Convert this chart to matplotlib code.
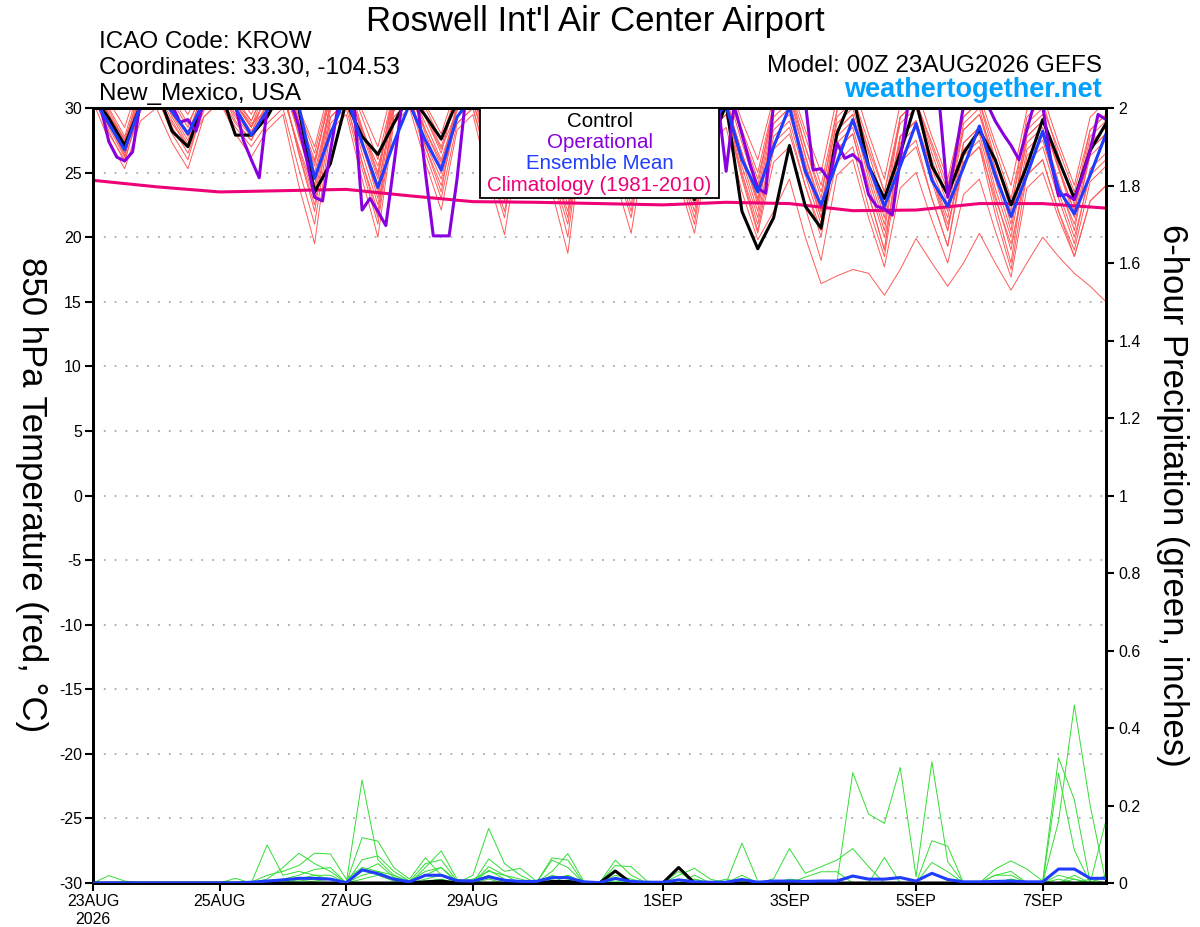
import numpy as np
import matplotlib
matplotlib.use("Agg")
import matplotlib.pyplot as plt
from matplotlib.patches import Rectangle

plt.rcParams['font.family'] = ['Liberation Sans', 'DejaVu Sans']

# ---------------- data ----------------
# time axis: 6-hourly steps from 00Z 23AUG2026 (step index), operational run is 3-hourly
steps = list(range(65))
op_steps = [i * 0.5 for i in range(129)]

xtick_steps = [0, 8, 16, 24, 36, 44, 52, 60]
xtick_labels = ["23AUG\n2026", "25AUG", "27AUG", "29AUG", "1SEP", "3SEP", "5SEP", "7SEP"]

temp_ticks = list(range(-30, 31, 5))
precip_ticks = [0, 0.2, 0.4, 0.6, 0.8, 1.0, 1.2, 1.4, 1.6, 1.8, 2.0]
precip_tick_labels = ["0", "0.2", "0.4", "0.6", "0.8", "1", "1.2", "1.4", "1.6", "1.8", "2"]

control_t = [31.0, 29.2, 27.1, 30.2, 31.5, 28.2, 27.0, 30.5, 31.5, 27.9, 27.9, 29.3,
             31.5, 30.0, 23.5, 25.7, 30.5, 27.8, 26.4, 28.8, 31.0, 29.4, 27.6, 30.5,
             31.5, 28.5, 25.0, 29.0, 31.0, 28.0, 25.0, 28.5, 31.0, 28.0, 25.0, 28.5,
             30.5, 26.0, 22.9, 27.0, 30.3, 22.0, 19.1, 21.5, 27.1, 22.4, 20.7, 28.0,
             31.0, 25.5, 23.0, 26.5, 30.5, 25.5, 23.3, 26.5, 28.3, 26.0, 22.5, 25.5,
             29.1, 26.0, 23.0, 26.7, 28.8]

mean_t = [30.8, 28.8, 26.75, 30.2, 31.2, 29.7, 28.0, 30.5, 31.3, 30.0, 27.9, 29.8,
          31.2, 30.2, 24.55, 28.0, 31.0, 27.3, 23.85, 27.3, 30.3, 27.5, 25.2, 29.3,
          31.0, 28.5, 25.5, 29.0, 31.0, 28.3, 25.0, 28.8, 30.8, 28.5, 25.5, 29.0,
          30.8, 28.4, 25.3, 29.0, 30.2, 26.0, 23.5, 27.0, 30.1, 25.1, 22.5, 25.8,
          29.1, 25.5, 22.4, 25.5, 28.8, 24.4, 22.4, 25.4, 28.6, 24.8, 21.6, 24.8,
          28.2, 23.7, 21.8, 24.8, 28.0]

oper_t = [30.8, 30.0, 27.4, 26.2, 25.9, 26.6, 30.5, 31.5,
          31.5, 31.0, 30.2, 28.9, 29.1, 28.2, 30.5, 31.5,
          32.0, 31.5, 30.2, 27.5, 26.0, 24.6, 30.0, 31.5,
          32.0, 30.5, 28.6, 26.0, 23.1, 22.8, 26.7, 30.2,
          31.5, 30.2, 22.1, 23.0, 22.0, 20.9, 25.5, 30.2,
          31.5, 30.5, 25.0, 20.1, 20.1, 20.1, 24.5, 30.3,
          31.5, 31.0, 29.0, 27.0, 25.5, 26.0, 29.0, 31.0,
          31.5, 30.5, 28.5, 26.5, 25.0, 25.5, 28.5, 30.5,
          31.0, 30.5, 28.5, 26.5, 25.5, 26.0, 28.5, 30.5,
          31.0, 30.0, 28.0, 26.5, 25.5, 26.5, 29.0, 30.3,
          25.1, 30.2, 28.0, 25.7, 23.8, 23.4, 30.5, 31.5,
          32.0, 31.5, 30.5, 25.2, 25.3, 24.4, 27.3, 26.1,
          26.4, 25.8, 23.3, 22.4, 22.2, 21.7, 26.0, 30.3,
          31.5, 31.5, 31.0, 30.0, 23.1, 26.5, 30.2, 31.5,
          31.5, 30.3, 29.0, 28.0, 27.1, 26.0, 28.3, 30.5,
          30.2, 26.0, 23.2, 23.3, 22.9, 24.7, 26.7, 29.5,
          29.1]

clim_steps = [0, 4, 8, 12, 16, 20, 24, 28, 32, 36, 40, 44, 48, 52, 56, 60, 64]
clim_t = [24.4, 23.9, 23.5, 23.6, 23.7, 23.2, 22.75, 22.7, 22.6, 22.5, 22.7, 22.6,
          22.05, 22.1, 22.6, 22.6, 22.25]

member_t01 = [32.0, 28.8, 26.5, 31.3, 32.5, 29.5, 27.5, 30.8, 32.0, 29.5, 28.0, 31.3,
              32.5, 27.8, 24.0, 30.3, 31.5, 27.0, 23.5, 30.8, 32.0, 28.3, 25.5, 30.3,
              31.5, 27.5, 24.5, 29.8, 31.0, 26.8, 23.5, 30.3, 31.5, 27.3, 24.0, 29.8,
              31.0, 26.5, 23.0, 29.8, 31.0, 26.0, 22.0, 28.8, 30.0, 25.5, 22.0, 28.3,
              29.5, 24.5, 20.5, 27.8, 29.0, 24.8, 21.5, 27.3, 28.5, 23.8, 20.0, 26.8,
              28.0, 24.0, 21.0, 26.3, 27.5]
member_t02 = [32.5, 29.5, 27.0, 31.8, 33.0, 30.5, 28.5, 31.8, 33.0, 30.8, 29.0, 31.8,
              33.0, 29.0, 25.5, 31.3, 32.5, 28.5, 25.0, 31.3, 32.5, 29.3, 26.5, 31.3,
              32.5, 29.0, 26.0, 30.8, 32.0, 28.5, 25.5, 30.8, 32.0, 28.3, 25.0, 30.8,
              32.0, 28.5, 25.5, 30.8, 32.0, 27.8, 24.0, 30.3, 31.5, 27.0, 23.0, 29.8,
              31.0, 26.5, 22.5, 29.3, 30.5, 26.5, 23.0, 29.3, 30.5, 26.0, 22.0, 29.3,
              30.5, 26.3, 22.5, 28.3, 29.5]
member_t03 = [31.5, 28.2, 25.8, 30.3, 31.5, 28.5, 26.5, 29.8, 31.0, 28.8, 27.5, 30.3,
              31.5, 26.5, 22.5, 29.3, 30.5, 25.8, 22.0, 29.8, 31.0, 27.0, 24.0, 29.3,
              30.5, 26.3, 23.0, 28.8, 30.0, 25.5, 22.0, 29.3, 30.5, 26.3, 23.0, 29.3,
              30.5, 25.8, 22.0, 28.8, 30.0, 25.0, 21.0, 27.3, 28.5, 24.0, 20.5, 25.8,
              27.0, 22.3, 18.5, 26.3, 27.5, 23.0, 19.3, 25.8, 27.0, 21.8, 17.5, 24.8,
              26.0, 22.0, 19.0, 24.3, 25.5]
member_t04 = [32.5, 29.8, 27.5, 31.3, 32.5, 30.0, 28.0, 31.3, 32.5, 30.3, 28.5, 31.8,
              33.0, 29.3, 26.0, 30.8, 32.0, 28.0, 24.5, 31.3, 32.5, 29.5, 27.0, 30.8,
              32.0, 28.5, 25.5, 30.3, 31.5, 27.8, 24.5, 30.8, 32.0, 28.8, 26.0, 30.3,
              31.5, 27.8, 24.5, 30.3, 31.5, 27.3, 23.5, 29.8, 31.0, 26.3, 22.0, 29.3,
              30.5, 26.8, 23.5, 28.8, 30.0, 26.0, 22.5, 28.8, 30.0, 25.3, 21.0, 28.3,
              29.5, 25.5, 22.0, 27.8, 29.0]
member_t05 = [31.0, 28.0, 26.0, 29.8, 31.0, 28.8, 27.0, 29.3, 30.5, 28.5, 27.0, 28.8,
              30.0, 25.3, 21.0, 28.8, 30.0, 25.3, 21.0, 29.3, 30.5, 26.5, 23.0, 28.8,
              30.0, 25.8, 22.0, 28.3, 29.5, 25.0, 21.0, 28.8, 30.0, 25.8, 22.0, 28.8,
              30.0, 25.5, 21.5, 28.3, 29.5, 24.5, 20.3, 25.8, 27.0, 22.3, 18.2, 24.8,
              26.0, 21.5, 17.7, 23.8, 25.0, 21.3, 18.0, 23.3, 24.5, 20.5, 16.9, 23.8,
              25.0, 21.5, 18.5, 22.8, 24.0]
member_t06 = [33.0, 30.5, 28.5, 32.3, 33.5, 31.3, 29.5, 32.3, 33.5, 31.3, 29.5, 32.3,
              33.5, 30.0, 27.0, 31.8, 33.0, 29.8, 27.0, 31.8, 33.0, 30.3, 28.0, 31.8,
              33.0, 29.8, 27.0, 31.3, 32.5, 29.5, 27.0, 31.8, 33.0, 29.8, 27.0, 31.3,
              32.5, 29.5, 27.0, 31.3, 32.5, 29.0, 26.0, 30.8, 32.0, 28.3, 25.0, 30.8,
              32.0, 28.0, 24.5, 30.3, 31.5, 27.8, 24.5, 29.8, 31.0, 27.3, 24.0, 29.8,
              31.0, 27.3, 24.0, 29.3, 30.5]
member_t07 = [30.5, 27.5, 25.3, 29.0, 30.0, 27.3, 25.3, 29.3, 30.5, 28.0, 26.2, 28.3,
              29.5, 24.0, 19.5, 28.3, 29.5, 24.5, 20.0, 28.8, 30.0, 25.8, 22.1, 28.3,
              29.5, 24.5, 20.2, 27.8, 29.0, 23.5, 18.75, 28.3, 29.5, 24.5, 20.3, 27.8,
              29.0, 24.3, 20.3, 27.3, 28.5, 23.5, 19.8, 22.0, 24.5, 20.0, 16.4, 17.0,
              17.5, 17.2, 15.5, 17.5, 19.9, 18.0, 16.2, 18.0, 20.3, 18.0, 15.9, 18.0,
              20.0, 18.5, 17.2, 16.2, 15.0]
member_t08 = [32.0, 29.3, 27.2, 30.8, 32.0, 29.8, 28.0, 31.3, 32.5, 30.3, 28.5, 30.8,
              32.0, 28.0, 24.5, 30.3, 31.5, 27.5, 24.0, 30.3, 31.5, 28.0, 25.0, 30.3,
              31.5, 28.0, 25.0, 30.3, 31.5, 27.5, 24.0, 29.8, 31.0, 27.5, 24.5, 29.8,
              31.0, 27.3, 24.0, 29.3, 30.5, 26.5, 23.0, 29.3, 30.5, 26.3, 22.5, 28.3,
              29.5, 25.0, 21.0, 27.8, 29.0, 25.3, 22.0, 28.3, 29.5, 25.3, 21.5, 27.3,
              28.5, 24.3, 20.5, 26.8, 28.0]
member_t09 = [31.5, 28.8, 26.8, 29.8, 31.0, 28.0, 26.0, 30.3, 31.5, 29.0, 27.5, 29.8,
              31.0, 26.8, 23.0, 29.8, 31.0, 26.5, 22.5, 29.3, 30.5, 27.3, 24.5, 29.3,
              30.5, 26.8, 23.5, 29.3, 30.5, 26.3, 22.5, 28.8, 30.0, 25.5, 21.5, 28.8,
              30.0, 26.0, 22.5, 28.8, 30.0, 25.5, 21.5, 27.8, 29.0, 24.8, 21.0, 26.8,
              28.0, 23.3, 19.0, 27.3, 28.5, 24.3, 20.5, 26.8, 28.0, 23.3, 19.0, 25.8,
              27.0, 23.0, 19.5, 25.3, 26.5]
member_t10 = [32.5, 30.0, 27.8, 31.8, 33.0, 30.8, 28.8, 31.3, 32.5, 30.5, 29.0, 31.8,
              33.0, 29.8, 26.5, 31.3, 32.5, 29.3, 26.0, 31.3, 32.5, 30.0, 27.5, 31.3,
              32.5, 29.5, 26.5, 30.8, 32.0, 29.0, 26.0, 31.3, 32.5, 29.5, 26.5, 30.3,
              31.5, 28.8, 26.0, 30.3, 31.5, 28.3, 25.0, 30.3, 31.5, 27.8, 24.0, 29.8,
              31.0, 27.3, 23.5, 29.3, 30.5, 27.3, 24.0, 29.3, 30.5, 26.8, 23.0, 28.8,
              30.0, 26.8, 23.5, 28.3, 29.5]
member_t11 = [31.5, 28.8, 26.3, 30.8, 32.0, 29.8, 27.8, 30.8, 32.0, 30.0, 28.2, 30.3,
              31.5, 28.3, 25.0, 30.3, 31.5, 27.3, 23.0, 30.3, 31.5, 28.8, 26.0, 29.8,
              31.0, 27.5, 24.0, 29.8, 31.0, 27.0, 23.0, 29.8, 31.0, 28.0, 25.0, 29.3,
              30.5, 27.0, 23.5, 29.3, 30.5, 26.5, 22.5, 28.8, 30.0, 25.8, 21.5, 27.8,
              29.0, 25.5, 22.0, 27.8, 29.0, 24.8, 20.5, 27.3, 28.5, 24.5, 20.5, 27.8,
              29.0, 25.3, 21.5, 26.8, 28.0]
member_t12 = [32.0, 29.5, 27.4, 30.3, 31.5, 29.0, 27.0, 30.8, 32.0, 30.3, 28.8, 29.8,
              31.0, 27.0, 23.5, 30.3, 31.5, 28.3, 25.5, 29.8, 31.0, 28.3, 25.8, 28.8,
              30.0, 25.5, 21.5, 29.3, 30.5, 25.0, 20.0, 29.3, 30.5, 27.0, 23.5, 28.3,
              29.5, 25.0, 21.0, 28.3, 29.5, 24.8, 20.5, 26.8, 28.0, 24.0, 20.0, 27.3,
              28.5, 24.0, 20.0, 25.8, 27.0, 23.0, 19.3, 26.3, 27.5, 22.5, 18.0, 26.3,
              27.5, 23.5, 20.0, 24.8, 26.0]
member_t13 = [31.5, 28.5, 26.2, 30.8, 32.0, 29.8, 28.2, 30.3, 31.5, 29.3, 27.8, 30.3,
              31.5, 26.5, 22.0, 29.3, 30.5, 25.8, 21.5, 29.8, 31.0, 27.0, 23.5, 30.3,
              31.5, 28.3, 25.5, 29.8, 31.0, 27.5, 24.5, 29.3, 30.5, 26.3, 22.5, 29.8,
              31.0, 27.5, 24.5, 29.3, 30.5, 26.5, 22.8, 28.3, 29.5, 25.3, 21.5, 26.8,
              28.0, 23.3, 19.0, 27.8, 29.0, 24.8, 21.0, 25.8, 27.0, 23.0, 19.5, 24.8,
              26.0, 22.0, 18.5, 22.8, 24.0]
member_t14 = [32.0, 29.5, 27.6, 30.8, 32.0, 29.3, 27.2, 31.3, 32.5, 30.3, 28.6, 30.8,
              32.0, 28.8, 25.8, 30.8, 32.0, 28.3, 24.8, 30.8, 32.0, 29.3, 26.8, 29.8,
              31.0, 26.8, 22.8, 29.3, 30.5, 25.8, 21.5, 30.3, 31.5, 28.3, 25.5, 29.3,
              30.5, 26.5, 22.8, 30.3, 31.5, 28.0, 24.5, 29.8, 31.0, 27.0, 23.5, 28.8,
              30.0, 25.5, 21.5, 29.3, 30.5, 27.0, 23.5, 28.3, 29.5, 26.0, 22.5, 27.8,
              29.0, 25.3, 22.0, 27.3, 28.5]
members_t = [member_t01, member_t02, member_t03, member_t04, member_t05, member_t06,
             member_t07, member_t08, member_t09, member_t10, member_t11, member_t12,
             member_t13, member_t14]

mean_p = [0, 0, 0, 0, 0, 0, 0, 0, 0, 0, 0.002, 0.005, 0.008,
          0.012, 0.012, 0.01, 0.001, 0.034, 0.024, 0.01, 0.003, 0.02, 0.02, 0.006, 0.005, 0.016,
          0.007, 0.004, 0.004, 0.014, 0.014, 0.003, 0.001, 0.012, 0.004, 0.002, 0.002, 0.008, 0.003,
          0.002, 0.002, 0.009, 0.002, 0.005, 0.005, 0.004, 0.005, 0.005, 0.018, 0.01, 0.01, 0.014,
          0.005, 0.025, 0.009, 0.003, 0.003, 0.004, 0.005, 0.003, 0.003, 0.036, 0.036, 0.012, 0.012]
control_p = [0, 0, 0, 0, 0, 0, 0, 0, 0, 0, 0, 0, 0,
             0, 0, 0, 0, 0, 0, 0, 0, 0.003, 0.005, 0, 0, 0,
             0, 0, 0, 0.004, 0.004, 0, 0, 0.031, 0, 0, 0, 0.04, 0,
             0, 0, 0, 0, 0, 0, 0, 0, 0, 0, 0, 0, 0,
             0, 0, 0, 0, 0, 0, 0, 0, 0, 0, 0, 0, 0]

member_p1 = [0, 0.019, 0.005, 0, 0, 0, 0, 0, 0, 0, 0, 0.098, 0.02,
             0.03, 0.02, 0.01, 0, 0.266, 0.06, 0.02, 0.005, 0.03, 0.04, 0.005, 0.01, 0.03,
             0.02, 0.01, 0, 0.03, 0.076, 0.005, 0, 0.02, 0.01, 0, 0, 0, 0.01,
             0, 0, 0.02, 0, 0, 0.01, 0.005, 0, 0, 0.285, 0.178, 0.154, 0.298,
             0.016, 0.313, 0.055, 0, 0, 0, 0.01, 0, 0, 0.02, 0.01, 0, 0]
member_p2 = [0, 0, 0, 0, 0, 0, 0, 0, 0, 0.012, 0, 0.01, 0.04,
             0.077, 0.05, 0.03, 0, 0.117, 0.108, 0.04, 0.01, 0.065, 0.02, 0, 0.02, 0.141,
             0.05, 0.02, 0, 0.065, 0.059, 0, 0, 0.059, 0.02, 0, 0, 0.02, 0.038,
             0.01, 0, 0.103, 0.005, 0, 0, 0, 0, 0, 0, 0, 0, 0,
             0, 0.109, 0.095, 0, 0, 0.036, 0.057, 0.036, 0.005, 0.323, 0.215, 0, 0]
member_p3 = [0, 0, 0, 0, 0, 0, 0, 0, 0, 0, 0.002, 0.02, 0.03,
             0.045, 0.077, 0.075, 0.01, 0.04, 0.03, 0.02, 0, 0.04, 0.083, 0.01, 0, 0.062,
             0.03, 0.038, 0.005, 0.01, 0.02, 0, 0, 0.045, 0.042, 0.005, 0, 0, 0.02,
             0, 0.01, 0, 0, 0.011, 0.089, 0.025, 0.042, 0.059, 0.089, 0.042, 0, 0,
             0, 0.053, 0.029, 0, 0, 0.02, 0.03, 0, 0, 0.159, 0.459, 0.2, 0]
member_p4 = [0, 0, 0, 0, 0, 0, 0, 0, 0, 0, 0, 0.005, 0.01,
             0.02, 0.035, 0.04, 0, 0.06, 0.07, 0.03, 0.005, 0.05, 0.06, 0.005, 0, 0.042,
             0.02, 0, 0, 0.059, 0.04, 0, 0, 0.03, 0, 0, 0, 0.03, 0,
             0, 0, 0, 0, 0, 0, 0.015, 0.029, 0.029, 0, 0, 0.066, 0,
             0, 0, 0, 0, 0, 0, 0.01, 0, 0, 0.283, 0.085, 0, 0.162]
member_p5 = [0, 0, 0, 0, 0, 0, 0, 0, 0, 0, 0, 0, 0,
             0.01, 0.02, 0.02, 0, 0.03, 0.05, 0.015, 0, 0.02, 0.04, 0, 0, 0.033,
             0.01, 0, 0, 0, 0.02, 0, 0, 0.01, 0, 0, 0, 0, 0,
             0, 0, 0, 0, 0, 0, 0, 0, 0, 0, 0, 0, 0,
             0, 0, 0, 0, 0, 0.005, 0, 0, 0, 0, 0.02, 0, 0.02]
member_p6 = [0, 0, 0, 0, 0, 0, 0, 0, 0, 0, 0, 0, 0.005,
             0.005, 0.01, 0.01, 0, 0.02, 0.03, 0.01, 0, 0.01, 0.02, 0, 0.005, 0.02,
             0.005, 0, 0, 0.02, 0.01, 0, 0, 0.005, 0, 0, 0, 0, 0,
             0, 0, 0, 0, 0, 0, 0, 0, 0, 0, 0, 0, 0,
             0, 0, 0, 0, 0, 0, 0, 0, 0, 0.01, 0, 0.01, 0]
member_p7 = [0, 0, 0, 0, 0, 0, 0, 0, 0, 0, 0, 0, 0,
             0, 0.005, 0.01, 0, 0.01, 0.02, 0.005, 0, 0.005, 0.01, 0, 0, 0.01,
             0, 0, 0, 0.005, 0.005, 0, 0, 0, 0, 0, 0, 0, 0.01,
             0, 0, 0.005, 0, 0, 0, 0, 0, 0, 0, 0, 0, 0,
             0, 0, 0, 0, 0, 0.02, 0.02, 0, 0, 0, 0.01, 0, 0]
members_p = [member_p1, member_p2, member_p3, member_p4, member_p5, member_p6, member_p7]

# ---------------- styles ----------------
RED = '#ff5a5a'
GREEN = '#33dd33'
BLACK = '#000000'
PURPLE = '#8800dd'
BLUE = '#1f3cff'
PINK = '#ee0077'
CYAN = '#00a0ff'

fig = plt.figure(figsize=(12, 9.27), dpi=100)
ax = fig.add_axes([93 / 1200, 1 - 883 / 927, (1106 - 93) / 1200, (883 - 108) / 927])
ax.set_xlim(0, 64)
ax.set_ylim(-30, 30)
ax2 = ax.twinx()
ax2.set_ylim(0, 2)

# temperature
for m in members_t:
    ax.plot(steps, m, color=RED, lw=0.7, zorder=2)
ax.plot(clim_steps, clim_t, color=PINK, lw=2.2, zorder=3)
ax.plot(steps, control_t, color=BLACK, lw=2.2, zorder=4)
ax.plot(op_steps, oper_t, color=PURPLE, lw=2.2, zorder=5)
ax.plot(steps, mean_t, color=BLUE, lw=2.2, zorder=6)

# precipitation
for m in members_p:
    ax2.plot(steps, m, color=GREEN, lw=0.7, zorder=2)
ax2.plot(steps, control_p, color=BLACK, lw=2.2, zorder=4)
ax2.plot(steps, mean_p, color=BLUE, lw=2.2, zorder=5)

# axes styling
for a in (ax, ax2):
    for s in a.spines.values():
        s.set_linewidth(2.0)
ax.set_yticks(temp_ticks)
ax.set_yticklabels([str(v) for v in temp_ticks])
ax.grid(axis='y', linestyle=(0, (1, 5)), color='#aaaaaa', lw=1.3)
ax.set_xticks(xtick_steps)
ax.set_xticklabels(xtick_labels)
ax.tick_params(axis='both', direction='out', length=6, width=1.5, labelsize=11.5, pad=2)
ax2.set_yticks(precip_ticks)
ax2.set_yticklabels(precip_tick_labels)
ax2.tick_params(axis='y', direction='out', length=6, width=1.5, labelsize=11.5, pad=3)

# legend box (text only, coloured)
x0 = (480 - 93) / 1013
x1 = (719 - 93) / 1013
y0 = (883 - 198) / 775
ax2.add_patch(Rectangle((x0, y0), x1 - x0, 1 - y0, transform=ax2.transAxes,
                        facecolor='white', edgecolor='black', lw=1.3, zorder=20,
                        clip_on=False))
leg_entries = [("Control", BLACK), ("Operational", PURPLE),
               ("Ensemble Mean", BLUE), ("Climatology (1981-2010)", PINK)]
leg_y = [0.982, 0.955, 0.928, 0.900]
for (txt, col), yy in zip(leg_entries, leg_y):
    ax2.text((x0 + x1) / 2, yy, txt, color=col, fontsize=14.8, ha='center', va='center',
             transform=ax2.transAxes, zorder=21)

# axis titles (both read top-to-bottom)
fig.text(31 / 1200, 1 - 495 / 927, "850 hPa Temperature (red, \u00b0C)", rotation=270,
         fontsize=25, ha='center', va='center')
fig.text(1172 / 1200, 1 - 495 / 927, "6-hour Precipitation (green, inches)", rotation=270,
         fontsize=25, ha='center', va='center')

# header
fig.text(595 / 1200, 1 - 21 / 927, "Roswell Int'l Air Center Airport", fontsize=25,
         ha='center', va='center')
fig.text(99 / 1200, 1 - 42 / 927, "ICAO Code: KROW", fontsize=17.5, ha='left', va='center')
fig.text(99 / 1200, 1 - 68 / 927, "Coordinates: 33.30, -104.53", fontsize=17.5,
         ha='left', va='center')
fig.text(99 / 1200, 1 - 94 / 927, "New_Mexico, USA", fontsize=17.5, ha='left', va='center')
fig.text(1102 / 1200, 1 - 66 / 927, "Model: 00Z 23AUG2026 GEFS", fontsize=17.5,
         ha='right', va='center')
fig.text(1102 / 1200, 1 - 90 / 927, "weathertogether.net", fontsize=19.5, ha='right',
         va='center', color=CYAN, fontweight='bold')

fig.savefig("out.png", dpi=100)
